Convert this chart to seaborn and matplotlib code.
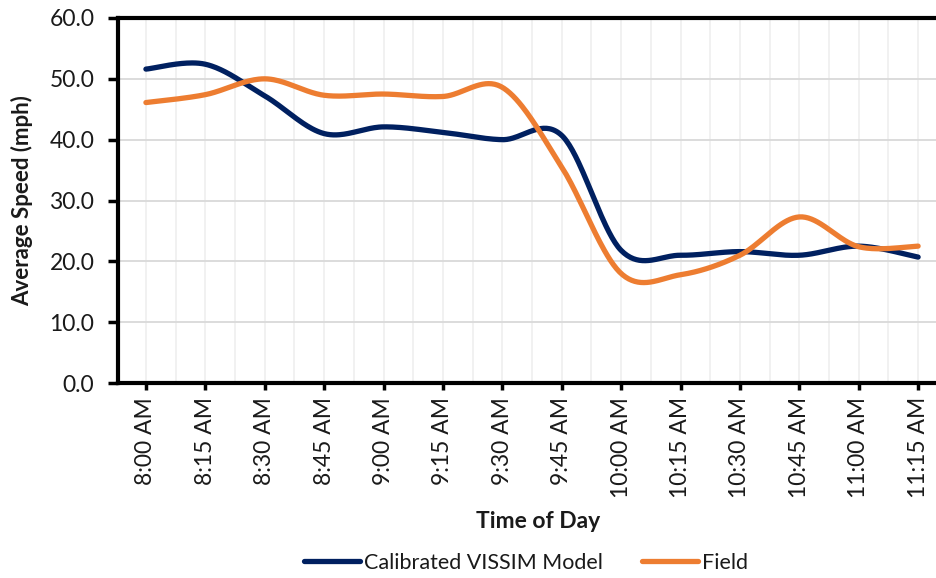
import numpy as np
import pandas as pd
import matplotlib
matplotlib.use("Agg")
import matplotlib.pyplot as plt
import seaborn as sns

# Time periods and average speeds (mph)
times = ["8:00 AM", "8:15 AM", "8:30 AM", "8:45 AM", "9:00 AM", "9:15 AM", "9:30 AM",
         "9:45 AM", "10:00 AM", "10:15 AM", "10:30 AM", "10:45 AM", "11:00 AM", "11:15 AM"]
vissim = [51.6, 52.4, 47.2, 41.0, 42.1, 41.2, 40.0, 40.7, 21.8, 21.0, 21.6, 21.0, 22.5, 20.7]
field = [46.1, 47.4, 50.0, 47.3, 47.5, 47.1, 48.6, 35.5, 18.0, 17.8, 21.0, 27.3, 22.4, 22.5]
series_names = ["Calibrated VISSIM Model", "Field"]
colors = ["#002060", "#ED7D31"]
y_ticks = [0, 10, 20, 30, 40, 50, 60]


def smooth(values, steps=40):
    """Cubic Bezier smoothing through every point (spreadsheet-style smoothed line)."""
    p = np.column_stack([np.arange(len(values), dtype=float), np.asarray(values, float)])
    n = len(p)
    xs, ys = [], []
    t = np.linspace(0, 1, steps)[:, None]
    for i in range(n - 1):
        p_prev = p[max(i - 1, 0)]
        p_next2 = p[min(i + 2, n - 1)]
        c1 = p[i] + (p[i + 1] - p_prev) / 6.0
        c2 = p[i + 1] - (p_next2 - p[i]) / 6.0
        b = ((1 - t) ** 3) * p[i] + 3 * ((1 - t) ** 2) * t * c1 + 3 * (1 - t) * t ** 2 * c2 + t ** 3 * p[i + 1]
        if i > 0:
            b = b[1:]
        xs.append(b[:, 0])
        ys.append(b[:, 1])
    return np.concatenate(xs), np.concatenate(ys)


frames = []
for name, vals in zip(series_names, [vissim, field]):
    sx, sy = smooth(vals)
    frames.append(pd.DataFrame({"x": sx, "speed": sy, "series": name}))
curve = pd.concat(frames, ignore_index=True)

sns.set_theme(style="white")
plt.rcParams["font.family"] = ["Lato", "DejaVu Sans"]

fig = plt.figure(figsize=(9.37, 5.78), dpi=100)
W, H = 937, 578
left_px, right_px, top_px, bottom_px = 118, 949.6, 18, 383
ax = fig.add_axes([left_px / W, 1 - bottom_px / H, (right_px - left_px) / W, (bottom_px - top_px) / H])

for name, col in zip(series_names, colors):
    sub = curve[curve["series"] == name]
    sns.lineplot(x=sub["x"].values, y=sub["speed"].values, color=col, linewidth=3.8,
                 sort=False, ax=ax, label=name, legend=False,
                 solid_capstyle="round", solid_joinstyle="round", zorder=3)

ax.set_xlim(-0.47, 13.53)
ax.set_ylim(0, 60)
ax.set_yticks(y_ticks)
ax.set_yticklabels([f"{v:.1f}" for v in y_ticks])
ax.set_xticks(range(len(times)))
ax.set_xticklabels(times, rotation=90, va="top", ha="center")

# Gridlines: horizontal at major ticks, vertical at every half period
for yv in y_ticks[1:]:
    ax.axhline(yv, color="#d9d9d9", linewidth=1.3, zorder=1)
for xv in np.arange(0, 13.6, 0.5):
    ax.axvline(xv, color="#f0f0f0", linewidth=1.3, zorder=0.5)

for side in ["left", "bottom", "top"]:
    ax.spines[side].set_visible(True)
    ax.spines[side].set_color("black")
    ax.spines[side].set_linewidth(3.0)
ax.spines["right"].set_visible(False)

ax.tick_params(axis="y", which="major", direction="out", length=7, width=2.5,
               color="black", pad=10, labelsize=16.5, labelcolor="#1a1a1a", left=True)
ax.tick_params(axis="x", which="major", direction="out", length=5, width=2.5,
               color="black", pad=5, labelsize=16.5, labelcolor="#1a1a1a", bottom=True)

ax.set_ylabel("Average Speed (mph)", fontsize=16, fontweight="bold", color="#1a1a1a", va="center")
ax.yaxis.set_label_coords(-(118 - 22) / (right_px - left_px), 0.5)
ax.set_xlabel("Time of Day", fontsize=16.5, fontweight="bold", color="#1a1a1a", va="center")
ax.xaxis.set_label_coords((538 - left_px) / (right_px - left_px), -(521 - bottom_px) / (bottom_px - top_px))

handles, labels = ax.get_legend_handles_labels()
fig.legend(handles, labels, loc="center", bbox_to_anchor=(526 / W, 1 - 563 / H), ncol=2,
           frameon=False, fontsize=15.5, handlelength=2.6, handletextpad=0.2,
           columnspacing=1.8, labelcolor="#1a1a1a")

fig.savefig("out.png", dpi=100)
